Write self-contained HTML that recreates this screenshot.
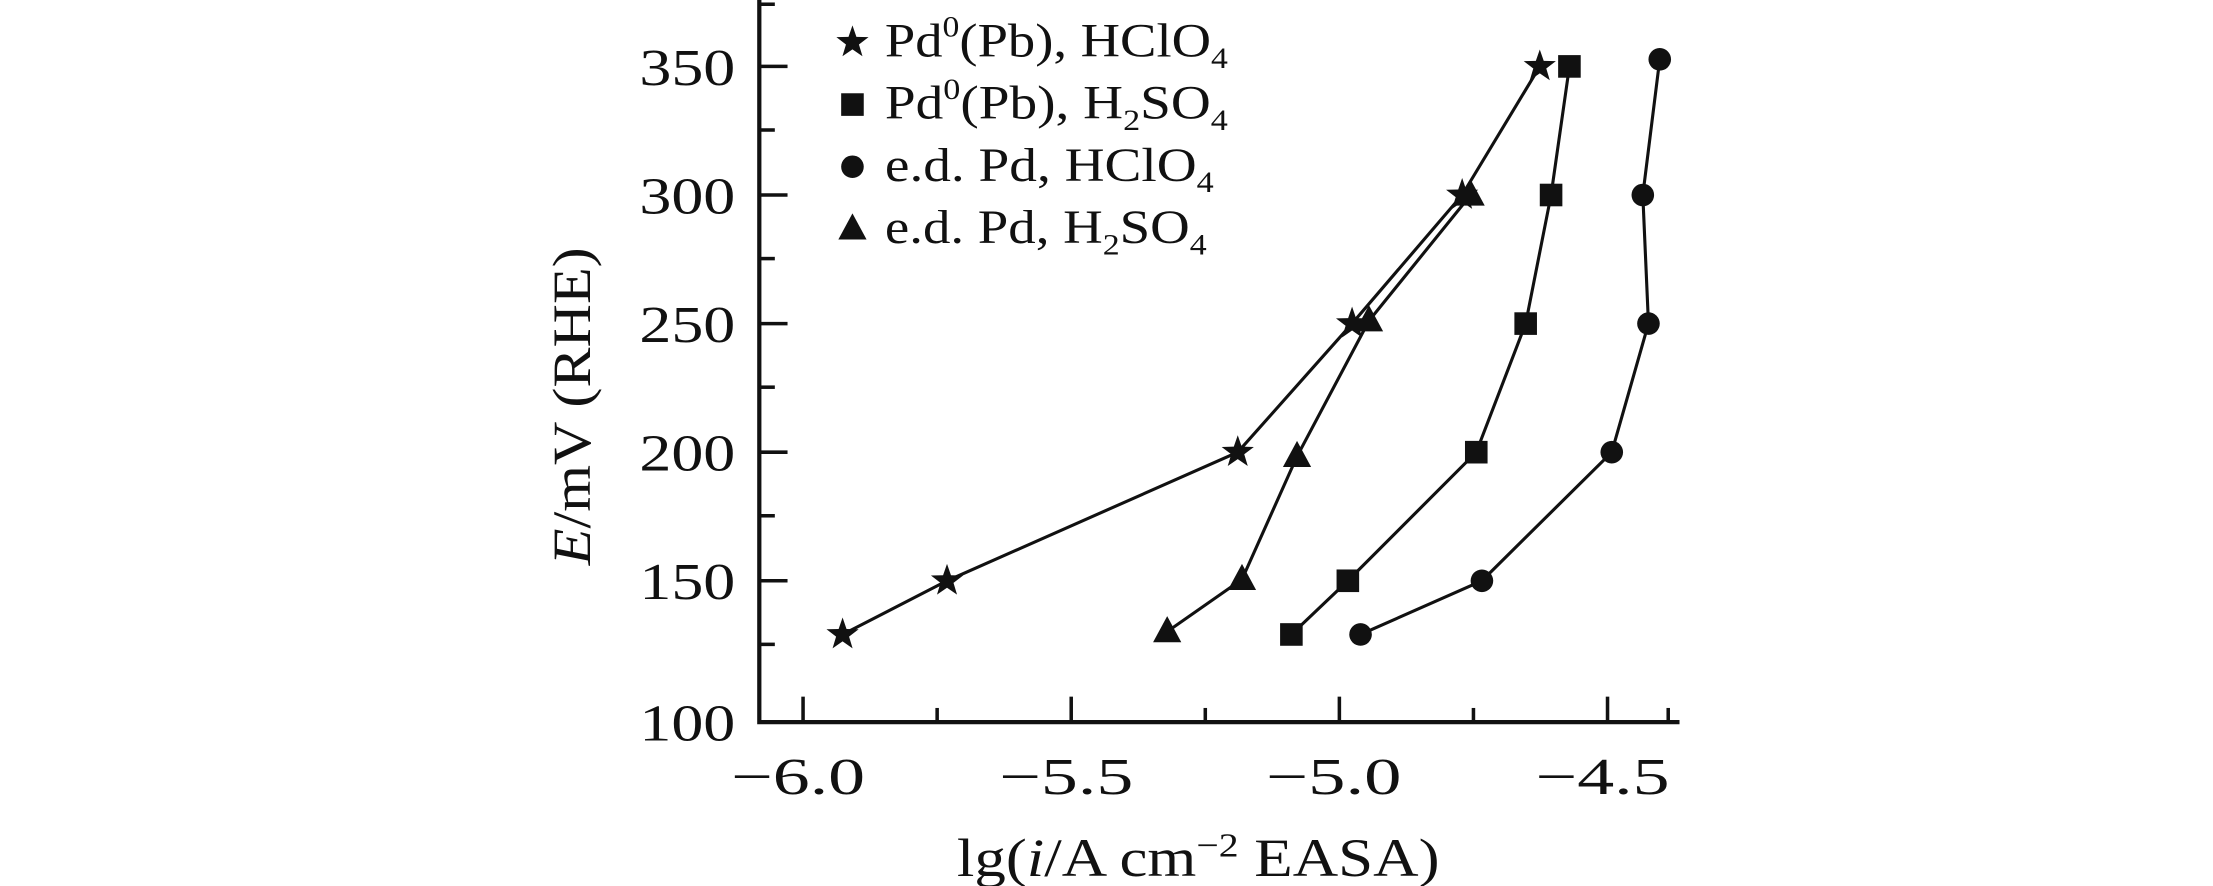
<!DOCTYPE html>
<html><head><meta charset="utf-8"><style>
html,body{margin:0;padding:0;background:#fff;}
svg{display:block;}
text{font-family:"Liberation Serif",serif;fill:#111;}
</style></head><body>
<svg width="2213" height="886" viewBox="0 0 1568 627" preserveAspectRatio="none">
<defs>
<path id="star" d="M0,-12 L2.8,-3.9 L11.4,-3.7 L4.6,1.5 L7.1,9.8 L0,4.9 L-7.1,9.8 L-4.6,1.5 L-11.4,-3.7 L-2.8,-3.9Z" fill="#111"/>
<rect id="sq" x="-8" y="-8" width="16" height="16" fill="#111"/>
<circle id="ci" r="8" fill="#111"/>
<path id="tri" d="M0,-11 L10,7.5 L-10,7.5Z" fill="#111"/>
</defs>
<g stroke="#111" stroke-width="3" fill="none">
<path d="M538,0 V511 H1190"/>
</g>
<g stroke="#111" stroke-width="2.5">
<line x1="538" y1="47" x2="558" y2="47"/><line x1="538" y1="138" x2="558" y2="138"/><line x1="538" y1="229" x2="558" y2="229"/><line x1="538" y1="320" x2="558" y2="320"/><line x1="538" y1="411" x2="558" y2="411"/>
<line x1="538" y1="92" x2="549" y2="92"/><line x1="538" y1="183" x2="549" y2="183"/><line x1="538" y1="274" x2="549" y2="274"/><line x1="538" y1="365" x2="549" y2="365"/><line x1="538" y1="456" x2="549" y2="456"/><line x1="538" y1="3" x2="549" y2="3"/>
<line x1="569" y1="511" x2="569" y2="493"/><line x1="759" y1="511" x2="759" y2="493"/><line x1="949" y1="511" x2="949" y2="493"/><line x1="1139" y1="511" x2="1139" y2="493"/>
<line x1="664" y1="511" x2="664" y2="501"/><line x1="854" y1="511" x2="854" y2="501"/><line x1="1044" y1="511" x2="1044" y2="501"/><line x1="1182" y1="511" x2="1182" y2="501"/>
</g>
<g font-size="37">
<text x="453" y="60" textLength="68" lengthAdjust="spacingAndGlyphs">350</text><text x="453" y="151" textLength="68" lengthAdjust="spacingAndGlyphs">300</text><text x="453" y="242" textLength="68" lengthAdjust="spacingAndGlyphs">250</text><text x="453" y="333" textLength="68" lengthAdjust="spacingAndGlyphs">200</text><text x="453" y="424" textLength="68" lengthAdjust="spacingAndGlyphs">150</text><text x="453" y="524" textLength="68" lengthAdjust="spacingAndGlyphs">100</text>
</g>
<g font-size="37">
<text x="518" y="562" textLength="95" lengthAdjust="spacingAndGlyphs">−6.0</text><text x="708" y="562" textLength="95" lengthAdjust="spacingAndGlyphs">−5.5</text><text x="897" y="562" textLength="96" lengthAdjust="spacingAndGlyphs">−5.0</text><text x="1088" y="562" textLength="95" lengthAdjust="spacingAndGlyphs">−4.5</text>
</g>
<text x="678" y="620" font-size="38" textLength="342" lengthAdjust="spacingAndGlyphs">lg(<tspan font-style="italic">i</tspan>/A cm<tspan font-size="24" dy="-14">−2</tspan><tspan dy="14"> EASA)</tspan></text>
<text transform="translate(418,400) rotate(-90)" font-size="38" textLength="225" lengthAdjust="spacingAndGlyphs"><tspan font-style="italic">E</tspan>/mV (RHE)</text>
<g stroke="#111" stroke-width="2.2" fill="none">
<polyline points="597,449 671,411 877,320 958,229 1036,138 1091,47"/>
<polyline points="915,449 955,411 1046,320 1081,229 1099,138 1112,47"/>
<polyline points="964,449 1050,411 1142,320 1168,229 1164,138 1176,42"/>
<polyline points="827,447 880,410 919,323 970,227 1042,138"/>
</g>
<g>
<use href="#star" x="597" y="449"/><use href="#star" x="671" y="411"/><use href="#star" x="877" y="320"/><use href="#star" x="958" y="229"/><use href="#star" x="1036" y="138"/><use href="#star" x="1091" y="47"/>
<use href="#sq" x="915" y="449"/><use href="#sq" x="955" y="411"/><use href="#sq" x="1046" y="320"/><use href="#sq" x="1081" y="229"/><use href="#sq" x="1099" y="138"/><use href="#sq" x="1112" y="47"/>
<use href="#ci" x="964" y="449"/><use href="#ci" x="1050" y="411"/><use href="#ci" x="1142" y="320"/><use href="#ci" x="1168" y="229"/><use href="#ci" x="1164" y="138"/><use href="#ci" x="1176" y="42"/>
<use href="#tri" x="827" y="447"/><use href="#tri" x="880" y="410"/><use href="#tri" x="919" y="323"/><use href="#tri" x="970" y="227"/><use href="#tri" x="1042" y="138"/>
</g>
<g font-size="34">
<use href="#star" x="604" y="30"/>
<text x="627" y="40" textLength="243" lengthAdjust="spacingAndGlyphs">Pd<tspan font-size="21" dy="-14">0</tspan><tspan dy="14">(Pb), HClO</tspan><tspan font-size="21" dy="8">4</tspan></text>
<use href="#sq" x="604" y="74"/>
<text x="627" y="84" textLength="243" lengthAdjust="spacingAndGlyphs">Pd<tspan font-size="21" dy="-14">0</tspan><tspan dy="14">(Pb), H</tspan><tspan font-size="21" dy="8">2</tspan><tspan dy="-8">SO</tspan><tspan font-size="21" dy="8">4</tspan></text>
<use href="#ci" x="604" y="118"/>
<text x="627" y="128" textLength="233" lengthAdjust="spacingAndGlyphs">e.d. Pd, HClO<tspan font-size="21" dy="8">4</tspan></text>
<use href="#tri" x="604" y="162"/>
<text x="627" y="172" textLength="228" lengthAdjust="spacingAndGlyphs">e.d. Pd, H<tspan font-size="21" dy="8">2</tspan><tspan dy="-8">SO</tspan><tspan font-size="21" dy="8">4</tspan></text>
</g>
</svg>
</body></html>
